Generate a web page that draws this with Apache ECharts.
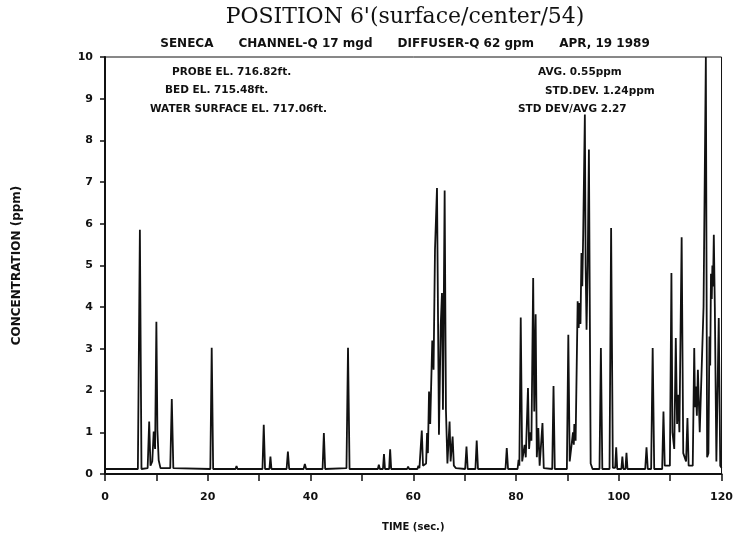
<!DOCTYPE html>
<html>
<head>
<meta charset="utf-8">
<script src="https://cdn.jsdelivr.net/npm/echarts@6/dist/echarts.min.js"></script>
<style>
  html, body { margin: 0; padding: 0; background: #ffffff; }
  #chart { width: 736px; height: 540px; }
</style>
</head>
<body>
<div id="chart"></div>
<script>
// Tracer concentration record, time in seconds and concentration in ppm
const timeSec = [
  0, 6.4, 6.79, 7.1, 8.3, 8.6, 8.85, 9.2, 9.48, 9.75, 10.0, 10.2, 10.45, 10.8,
  12.7, 13.0, 13.3, 20.5, 20.77, 21.05, 25.4, 25.6, 25.8,
  30.65, 30.9, 31.15, 32.0, 32.2, 32.4, 35.35, 35.6, 35.85, 38.65, 38.9, 39.15,
  42.35, 42.6, 42.85, 47.0, 47.3, 47.6, 53.1, 53.3, 53.5, 54.1, 54.3, 54.5,
  55.3, 55.5, 55.7, 58.8, 59.0, 59.2, 60.8, 61.0, 61.2,
  61.45, 61.66, 61.9, 62.5, 62.69, 62.85, 63.07, 63.3, 63.7, 63.95, 64.23, 64.62,
  65.0, 65.34, 65.59, 65.78, 66.11, 66.36, 66.65, 67.07, 67.27, 67.66, 67.9, 68.3,
  70.1, 70.36, 70.6, 72.1, 72.35, 72.6, 77.95, 78.2, 78.45,
  80.3, 80.5, 80.65, 80.92, 81.2, 81.67, 81.9, 82.33, 82.55, 82.77, 83.0, 83.34,
  83.55, 83.82, 84.05, 84.34, 84.6, 84.9, 85.15, 85.4, 87.05, 87.3, 87.55,
  89.9, 90.18, 90.45, 90.8, 91.09, 91.25, 91.35, 91.6, 92.0, 92.2, 92.34, 92.55,
  92.74, 92.9, 93.08, 93.4, 93.55, 93.73, 93.95, 94.19, 94.53, 94.9,
  96.25, 96.52, 96.8, 98.2, 98.51, 98.85, 99.3, 99.5, 99.7, 100.5, 100.7, 100.9,
  101.3, 101.5, 101.7, 105.15, 105.4, 105.65, 106.3, 106.6, 106.9,
  108.45, 108.7, 108.95, 109.95, 110.25, 110.45, 110.6, 110.8, 111.1, 111.35,
  111.58, 111.8, 112.24, 112.55, 113.1, 113.37, 113.6, 114.4, 114.69, 114.85,
  115.0, 115.2, 115.4, 115.76, 116.5, 116.95, 117.2, 117.45, 117.65, 117.8,
  117.95, 118.1, 118.22, 118.35, 118.5, 118.7, 119.0, 119.2, 119.46, 119.75, 120
];
const concPpm = [
  0.12, 0.12, 5.86, 0.12, 0.14, 1.26, 0.2, 0.3, 1.02, 0.6, 3.65, 1.05, 0.33, 0.14,
  0.14, 1.80, 0.14, 0.12, 3.03, 0.12, 0.12, 0.19, 0.12,
  0.12, 1.18, 0.12, 0.12, 0.42, 0.12, 0.12, 0.54, 0.12, 0.12, 0.24, 0.12,
  0.12, 0.98, 0.12, 0.14, 3.03, 0.12, 0.12, 0.22, 0.12, 0.12, 0.48, 0.12,
  0.12, 0.59, 0.12, 0.12, 0.18, 0.12, 0.12, 0.2, 0.14,
  0.14, 1.04, 0.2, 0.25, 0.98, 0.5, 1.98, 1.2, 3.2, 2.5, 5.38, 6.86,
  0.94, 3.54, 4.34, 1.54, 6.8, 1.54, 0.25, 1.26, 0.3, 0.9, 0.2, 0.14,
  0.12, 0.66, 0.12, 0.12, 0.8, 0.12, 0.12, 0.62, 0.12,
  0.12, 0.34, 0.2, 3.75, 0.3, 0.7, 0.4, 2.06, 0.6, 1.0, 0.8, 4.7,
  1.5, 3.83, 0.4, 1.1, 0.2, 0.2, 1.22, 0.14, 0.12, 2.11, 0.12,
  0.12, 3.34, 0.3, 0.3, 1.0, 0.7, 1.2, 0.8, 4.14, 3.5, 4.1, 3.6,
  5.3, 4.5, 5.78, 8.62, 5.0, 3.46, 5.0, 7.78, 0.25, 0.12,
  0.12, 3.02, 0.12, 0.12, 5.9, 0.15, 0.15, 0.64, 0.12, 0.12, 0.42, 0.12,
  0.12, 0.51, 0.12, 0.12, 0.64, 0.12, 0.12, 3.02, 0.12,
  0.12, 1.5, 0.2, 0.2, 4.82, 1.0, 1.0, 0.6, 3.26, 1.2,
  1.9, 1.0, 5.68, 0.5, 0.3, 1.34, 0.2, 0.2, 3.02, 1.6,
  2.1, 1.4, 2.5, 1.0, 4.0, 10, 0.4, 0.5, 3.3, 2.6,
  4.8, 4.2, 5.0, 4.5, 5.74, 4.0, 0.3, 0.3, 3.74, 0.2, 0.15
];
const xTickLabels = [0, 20, 40, 60, 80, 100, 120];
const yTickLabels = [0, 1, 2, 3, 4, 5, 6, 7, 8, 9, 10];

const titleText = "POSITION 6'(surface/center/54)";
const subtitleText = 'SENECA      CHANNEL-Q 17 mgd      DIFFUSER-Q 62 gpm      APR, 19 1989';
const leftNotes = ['PROBE EL. 716.82ft.', 'BED EL. 715.48ft.', 'WATER SURFACE EL. 717.06ft.'];
const rightNotes = ['AVG. 0.55ppm', 'STD.DEV. 1.24ppm', 'STD DEV/AVG 2.27'];

const ink = '#111111';
const plotFont = 'DejaVu Sans';

const points = timeSec.map((t, i) => [t, concPpm[i]]);

const chart = echarts.init(document.getElementById('chart'), null, { renderer: 'canvas' });

function noteText(text, x, y) {
  return {
    type: 'text', left: x, top: y,
    style: { text: text, fill: ink, font: 'bold 10.5px "' + plotFont + '"' }
  };
}

chart.setOption({
  animation: false,
  backgroundColor: '#ffffff',
  grid: {
    left: 105, right: 9, top: 57, bottom: 66,
    show: true, borderColor: ink, borderWidth: 1, backgroundColor: 'transparent'
  },
  xAxis: {
    type: 'value', min: 0, max: 120, interval: 10,
    name: 'TIME (sec.)', nameLocation: 'middle', nameGap: 48,
    nameTextStyle: { fontFamily: plotFont, fontWeight: 'bold', fontSize: 10, color: ink },
    axisLine: { show: true, onZero: false, lineStyle: { color: ink, width: 2 } },
    axisTick: { show: true, length: 7, lineStyle: { color: ink, width: 1.5 } },
    axisLabel: {
      margin: 18, color: ink, fontFamily: plotFont, fontWeight: 'bold', fontSize: 11,
      formatter: v => (xTickLabels.includes(v) ? String(v) : '')
    },
    splitLine: { show: false }
  },
  yAxis: {
    type: 'value', min: 0, max: 10, interval: 1,
    name: 'CONCENTRATION (ppm)', nameLocation: 'middle', nameGap: 82, nameRotate: 90,
    nameTextStyle: { fontFamily: plotFont, fontWeight: 'bold', fontSize: 12, color: ink },
    axisLine: { show: true, lineStyle: { color: ink, width: 2 } },
    axisTick: { show: true, length: 5, lineStyle: { color: ink, width: 1.5 } },
    axisLabel: {
      margin: 12, color: ink, fontFamily: plotFont, fontWeight: 'bold', fontSize: 11,
      formatter: v => (yTickLabels.includes(v) ? String(v) : '')
    },
    splitLine: { show: false }
  },
  graphic: [
    {
      type: 'text', x: 405, y: 6,
      style: { text: titleText, fill: ink, font: '22px "DejaVu Serif"', textAlign: 'center' }
    },
    {
      type: 'text', x: 405, y: 38,
      style: { text: subtitleText, fill: ink, font: 'bold 12px "' + plotFont + '"', textAlign: 'center' }
    },
    noteText(leftNotes[0], 172, 67),
    noteText(leftNotes[1], 165, 85),
    noteText(leftNotes[2], 150, 104),
    noteText(rightNotes[0], 538, 67),
    noteText(rightNotes[1], 545, 86),
    noteText(rightNotes[2], 518, 104)
  ],
  series: [{
    type: 'line',
    data: points,
    symbol: 'none',
    clip: true,
    lineStyle: { color: ink, width: 1.8 }
  }]
});
</script>
</body>
</html>
